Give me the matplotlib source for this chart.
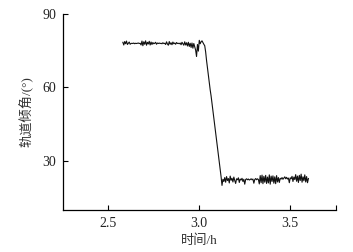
import numpy as np
import matplotlib
matplotlib.use("Agg")
import matplotlib.pyplot as plt

plt.rcParams['font.family'] = ['Liberation Serif', 'Noto Sans CJK SC', 'DejaVu Sans']

# inclination readings (deg), sampled every 0.005 h from 2.58 h
before = [78.4, 77.3, 78.7, 77.8, 78.9, 77.5, 78.0, 78.5, 77.6, 77.9,
          78.0, 77.9, 78.1, 77.8, 78.0, 77.9, 78.0, 78.1, 77.9, 78.0,
          77.3, 78.9, 77.0, 78.6, 77.6, 79.0, 77.2, 78.4, 77.7, 78.8,
          77.3, 78.5, 77.5, 78.3, 77.8, 78.0, 78.4, 77.6, 78.1, 77.9,
          78.1, 77.9, 78.0, 77.8, 78.2, 77.9, 78.0, 77.5, 78.6, 77.7,
          77.2, 78.7, 77.6, 78.2, 77.4, 78.5, 77.8, 78.1, 77.6, 78.3,
          77.9, 78.0, 77.8, 78.1, 77.4, 78.4, 77.8, 77.2, 78.6, 77.3,
          78.2, 76.9, 78.4, 76.7, 78.0, 76.3, 78.1, 76.0, 77.9, 76.5,
          75.2, 72.6, 77.5, 74.8, 79.2, 77.8, 78.6, 79.0, 78.3, 77.6]
drop = [77.0, 74.5, 71.0, 68.0, 65.0, 62.0, 59.0, 56.5, 53.5, 50.5,
        47.5, 44.5, 41.5, 38.5, 35.5, 32.5, 29.5, 26.5, 23.5, 20.0]
after = [22.5, 21.6, 23.2, 21.3, 23.6, 22.0, 22.8, 21.0, 23.8, 22.1,
         22.9, 21.4, 23.4, 22.0, 20.8, 22.7, 22.3, 23.1, 21.2, 22.6,
         22.2, 22.9, 21.6, 22.5, 20.5, 22.4, 22.7, 22.3, 22.6, 22.2,
         22.4, 22.7, 22.3, 22.6, 20.9, 22.4, 22.8, 22.3, 22.7, 22.4,
         20.6, 24.0, 21.1, 24.2, 20.7, 23.7, 21.3, 24.1, 20.8, 23.4,
         21.0, 24.3, 20.5, 23.8, 21.6, 23.9, 20.9, 23.5, 20.7, 24.0,
         21.4, 23.2, 21.2, 22.9, 22.6, 23.2, 22.5, 23.0, 23.5, 22.7,
         23.3, 22.6, 23.0, 21.1, 23.1, 22.7, 23.7, 21.6, 23.4, 22.4,
         24.4, 21.7, 23.8, 21.2, 24.1, 22.0, 24.6, 21.3, 23.5, 21.9,
         24.3, 21.4, 23.6, 21.1, 22.8]
angle = np.array(before + drop + after)
t0, dt = 2.58, 0.005
hours = t0 + dt * np.arange(len(angle))

fig = plt.figure(figsize=(3.53, 2.52), dpi=100)
ax = fig.add_axes([0.178, 0.167, 0.773, 0.778])
ax.plot(hours, angle, color="#111111", lw=0.8)

ax.set_xlim(2.25, 3.75)
ax.set_ylim(10, 90)
ax.set_xticks([2.5, 3.0, 3.5, 3.75])
ax.set_xticklabels(["2.5", "3.0", "3.5", ""])
ax.set_yticks([30, 60, 90])
ax.tick_params(direction="in", length=3.5, width=0.8, labelsize=10, pad=5,
               labelcolor="#222222")
for s in ("top", "right"):
    ax.spines[s].set_visible(False)
for s in ("left", "bottom"):
    ax.spines[s].set_linewidth(0.9)

ax.set_xlabel("时间/h", fontsize=9.5, labelpad=3, color="#333333")
ax.set_ylabel("轨道倾角/(°)", fontsize=9.5, labelpad=6, color="#333333")

fig.savefig("out.png", dpi=100)
